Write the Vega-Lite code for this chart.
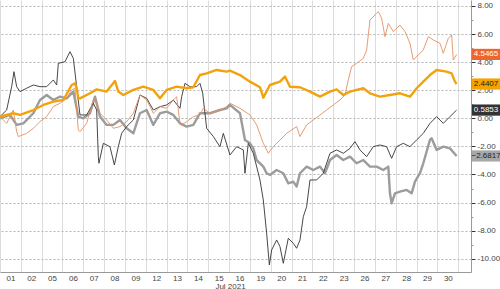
{
  "$schema": "https://vega.github.io/schema/vega-lite/v6.json",
  "width": 471,
  "height": 272,
  "autosize": {"type": "none"},
  "padding": {"left": 0, "top": 0, "right": 29, "bottom": 17},
  "background": "white",
  "config": {"view": {"stroke": null}, "font": "Liberation Sans"},
  "datasets": {
    "lines": [
      {"s":"D","t":0,"v":0.0},{"s":"D","t":0.48,"v":0.24},{"s":"D","t":0.8,"v":-0.47},{"s":"D","t":1.12,"v":-0.36},{"s":"D","t":1.6,"v":0.36},{"s":"D","t":1.92,"v":1.3},{"s":"D","t":2.24,"v":1.66},{"s":"D","t":2.56,"v":1.3},{"s":"D","t":2.88,"v":1.54},{"s":"D","t":3.2,"v":1.42},{"s":"D","t":3.52,"v":1.9},{"s":"D","t":3.76,"v":0.12},{"s":"D","t":4.0,"v":0.0},{"s":"D","t":4.32,"v":0.36},{"s":"D","t":4.56,"v":1.54},{"s":"D","t":4.8,"v":0.12},{"s":"D","t":5.12,"v":-0.47},{"s":"D","t":5.44,"v":-0.47},{"s":"D","t":5.76,"v":-0.12},{"s":"D","t":6.08,"v":-0.71},{"s":"D","t":6.4,"v":-1.07},{"s":"D","t":6.72,"v":0.36},{"s":"D","t":7.04,"v":0.59},{"s":"D","t":7.36,"v":-0.47},{"s":"D","t":7.68,"v":0.36},{"s":"D","t":8.0,"v":0.47},{"s":"D","t":8.32,"v":0.24},{"s":"D","t":8.64,"v":-0.36},{"s":"D","t":8.96,"v":-0.59},{"s":"D","t":9.28,"v":-0.47},{"s":"D","t":9.6,"v":0.36},{"s":"D","t":10.08,"v":0.36},{"s":"D","t":10.56,"v":0.59},{"s":"D","t":10.88,"v":0.71},{"s":"D","t":11.04,"v":0.95},{"s":"D","t":11.52,"v":0.36},{"s":"D","t":11.76,"v":-1.54},{"s":"D","t":12.0,"v":-1.78},{"s":"D","t":12.16,"v":-2.14},{"s":"D","t":12.32,"v":-2.97},{"s":"D","t":12.64,"v":-3.44},{"s":"D","t":12.8,"v":-3.91},{"s":"D","t":12.96,"v":-4.03},{"s":"D","t":13.28,"v":-3.68},{"s":"D","t":13.6,"v":-3.91},{"s":"D","t":13.84,"v":-4.63},{"s":"D","t":14.08,"v":-4.51},{"s":"D","t":14.24,"v":-4.86},{"s":"D","t":14.4,"v":-3.91},{"s":"D","t":14.72,"v":-3.44},{"s":"D","t":15.04,"v":-3.68},{"s":"D","t":15.36,"v":-3.44},{"s":"D","t":15.6,"v":-3.91},{"s":"D","t":15.84,"v":-2.97},{"s":"D","t":16.16,"v":-2.61},{"s":"D","t":16.48,"v":-2.97},{"s":"D","t":16.8,"v":-2.73},{"s":"D","t":17.12,"v":-3.2},{"s":"D","t":17.44,"v":-2.97},{"s":"D","t":17.76,"v":-3.44},{"s":"D","t":18.08,"v":-3.44},{"s":"D","t":18.4,"v":-3.68},{"s":"D","t":18.64,"v":-3.44},{"s":"D","t":18.72,"v":-5.34},{"s":"D","t":18.8,"v":-6.05},{"s":"D","t":18.96,"v":-5.34},{"s":"D","t":19.2,"v":-5.22},{"s":"D","t":19.52,"v":-5.1},{"s":"D","t":19.76,"v":-5.34},{"s":"D","t":19.92,"v":-4.51},{"s":"D","t":20.16,"v":-3.91},{"s":"D","t":20.32,"v":-3.2},{"s":"D","t":20.64,"v":-1.54},{"s":"D","t":20.72,"v":-1.42},{"s":"D","t":20.96,"v":-2.25},{"s":"D","t":21.28,"v":-2.02},{"s":"D","t":21.6,"v":-2.14},{"s":"D","t":21.92,"v":-2.6817},

      {"s":"C","t":0,"v":0.12},{"s":"C","t":0.32,"v":0.59},{"s":"C","t":0.56,"v":2.25},{"s":"C","t":0.67,"v":3.32},{"s":"C","t":0.8,"v":2.25},{"s":"C","t":0.96,"v":1.9},{"s":"C","t":1.28,"v":2.14},{"s":"C","t":1.6,"v":2.37},{"s":"C","t":1.92,"v":2.25},{"s":"C","t":2.24,"v":2.25},{"s":"C","t":2.56,"v":2.73},{"s":"C","t":2.72,"v":2.37},{"s":"C","t":2.8,"v":3.91},{"s":"C","t":3.12,"v":4.03},{"s":"C","t":3.36,"v":4.74},{"s":"C","t":3.52,"v":4.27},{"s":"C","t":3.68,"v":2.25},{"s":"C","t":3.84,"v":0.24},{"s":"C","t":4.16,"v":0.24},{"s":"C","t":4.48,"v":1.07},{"s":"C","t":4.64,"v":0.59},{"s":"C","t":4.72,"v":-2.73},{"s":"C","t":4.75,"v":-3.2},{"s":"C","t":4.96,"v":-1.78},{"s":"C","t":5.28,"v":-2.02},{"s":"C","t":5.49,"v":-3.32},{"s":"C","t":5.68,"v":-2.02},{"s":"C","t":5.84,"v":-1.07},{"s":"C","t":6.08,"v":-0.59},{"s":"C","t":6.4,"v":-0.12},{"s":"C","t":6.72,"v":1.66},{"s":"C","t":7.04,"v":1.42},{"s":"C","t":7.36,"v":0.59},{"s":"C","t":7.68,"v":0.83},{"s":"C","t":8.0,"v":0.95},{"s":"C","t":8.32,"v":1.3},{"s":"C","t":8.64,"v":0.71},{"s":"C","t":8.72,"v":1.54},{"s":"C","t":8.88,"v":2.49},{"s":"C","t":9.12,"v":2.25},{"s":"C","t":9.44,"v":2.25},{"s":"C","t":9.6,"v":2.49},{"s":"C","t":9.73,"v":1.78},{"s":"C","t":9.92,"v":-0.71},{"s":"C","t":10.24,"v":-1.3},{"s":"C","t":10.56,"v":-2.02},{"s":"C","t":10.72,"v":-1.07},{"s":"C","t":11.04,"v":-2.61},{"s":"C","t":11.36,"v":-2.02},{"s":"C","t":11.68,"v":-2.25},{"s":"C","t":11.76,"v":-3.91},{"s":"C","t":11.92,"v":-1.78},{"s":"C","t":12.16,"v":-2.49},{"s":"C","t":12.48,"v":-4.39},{"s":"C","t":12.64,"v":-5.81},{"s":"C","t":12.8,"v":-8.19},{"s":"C","t":12.93,"v":-10.44},{"s":"C","t":13.04,"v":-9.37},{"s":"C","t":13.28,"v":-8.66},{"s":"C","t":13.44,"v":-9.13},{"s":"C","t":13.6,"v":-10.32},{"s":"C","t":13.84,"v":-8.54},{"s":"C","t":14.08,"v":-8.9},{"s":"C","t":14.24,"v":-9.25},{"s":"C","t":14.4,"v":-8.66},{"s":"C","t":14.56,"v":-7.0},{"s":"C","t":14.72,"v":-6.29},{"s":"C","t":14.88,"v":-4.39},{"s":"C","t":15.2,"v":-4.39},{"s":"C","t":15.52,"v":-3.91},{"s":"C","t":15.84,"v":-2.49},{"s":"C","t":16.16,"v":-2.25},{"s":"C","t":16.48,"v":-2.49},{"s":"C","t":16.8,"v":-2.14},{"s":"C","t":17.04,"v":-1.66},{"s":"C","t":17.28,"v":-2.25},{"s":"C","t":17.6,"v":-2.73},{"s":"C","t":17.92,"v":-2.02},{"s":"C","t":18.24,"v":-1.9},{"s":"C","t":18.56,"v":-2.02},{"s":"C","t":18.8,"v":-2.85},{"s":"C","t":19.04,"v":-2.02},{"s":"C","t":19.36,"v":-1.78},{"s":"C","t":19.68,"v":-2.02},{"s":"C","t":20.0,"v":-1.54},{"s":"C","t":20.32,"v":-1.07},{"s":"C","t":20.64,"v":-0.36},{"s":"C","t":20.96,"v":0.12},{"s":"C","t":21.28,"v":-0.36},{"s":"C","t":21.6,"v":0.12},{"s":"C","t":21.92,"v":0.5853},

      {"s":"B","t":0,"v":0.12},{"s":"B","t":0.32,"v":-0.36},{"s":"B","t":0.64,"v":0.59},{"s":"B","t":0.8,"v":-0.95},{"s":"B","t":0.88,"v":-1.3},{"s":"B","t":1.28,"v":-1.07},{"s":"B","t":1.6,"v":-0.71},{"s":"B","t":1.92,"v":-0.24},{"s":"B","t":2.24,"v":0.12},{"s":"B","t":2.56,"v":0.83},{"s":"B","t":2.88,"v":1.07},{"s":"B","t":3.2,"v":1.42},{"s":"B","t":3.44,"v":2.02},{"s":"B","t":3.6,"v":2.14},{"s":"B","t":3.76,"v":-0.83},{"s":"B","t":3.84,"v":-0.95},{"s":"B","t":4.16,"v":-0.36},{"s":"B","t":4.48,"v":1.3},{"s":"B","t":4.56,"v":1.42},{"s":"B","t":4.8,"v":0.36},{"s":"B","t":5.12,"v":-0.12},{"s":"B","t":5.44,"v":-0.71},{"s":"B","t":5.76,"v":-0.59},{"s":"B","t":6.08,"v":-0.24},{"s":"B","t":6.4,"v":0.36},{"s":"B","t":6.72,"v":1.66},{"s":"B","t":7.04,"v":1.3},{"s":"B","t":7.36,"v":0.36},{"s":"B","t":7.68,"v":0.83},{"s":"B","t":8.0,"v":0.71},{"s":"B","t":8.32,"v":1.3},{"s":"B","t":8.48,"v":1.54},{"s":"B","t":8.64,"v":-0.36},{"s":"B","t":8.72,"v":-0.47},{"s":"B","t":8.96,"v":-0.24},{"s":"B","t":9.28,"v":0.12},{"s":"B","t":9.6,"v":0.24},{"s":"B","t":9.76,"v":0.71},{"s":"B","t":10.08,"v":0.36},{"s":"B","t":10.56,"v":0.59},{"s":"B","t":10.88,"v":0.83},{"s":"B","t":11.04,"v":1.07},{"s":"B","t":11.52,"v":0.71},{"s":"B","t":12.0,"v":0.24},{"s":"B","t":12.32,"v":-0.47},{"s":"B","t":12.64,"v":-1.78},{"s":"B","t":12.88,"v":-2.49},{"s":"B","t":13.12,"v":-2.02},{"s":"B","t":13.44,"v":-1.54},{"s":"B","t":13.76,"v":-1.07},{"s":"B","t":14.24,"v":-0.59},{"s":"B","t":14.4,"v":-1.3},{"s":"B","t":14.72,"v":-0.47},{"s":"B","t":15.04,"v":-0.12},{"s":"B","t":15.36,"v":0.24},{"s":"B","t":15.68,"v":0.59},{"s":"B","t":16.0,"v":0.95},{"s":"B","t":16.32,"v":1.3},{"s":"B","t":16.56,"v":1.66},{"s":"B","t":16.72,"v":2.73},{"s":"B","t":16.88,"v":3.68},{"s":"B","t":17.12,"v":3.91},{"s":"B","t":17.44,"v":4.27},{"s":"B","t":17.6,"v":4.86},{"s":"B","t":17.76,"v":6.99},{"s":"B","t":18.08,"v":7.47},{"s":"B","t":18.16,"v":7.59},{"s":"B","t":18.32,"v":7.12},{"s":"B","t":18.48,"v":5.81},{"s":"B","t":18.64,"v":6.76},{"s":"B","t":18.88,"v":6.17},{"s":"B","t":19.2,"v":6.64},{"s":"B","t":19.44,"v":6.17},{"s":"B","t":19.68,"v":5.34},{"s":"B","t":19.84,"v":4.15},{"s":"B","t":20.08,"v":4.51},{"s":"B","t":20.32,"v":4.86},{"s":"B","t":20.56,"v":5.81},{"s":"B","t":20.8,"v":5.58},{"s":"B","t":21.12,"v":5.34},{"s":"B","t":21.28,"v":4.63},{"s":"B","t":21.52,"v":5.69},{"s":"B","t":21.68,"v":5.93},{"s":"B","t":21.76,"v":4.15},{"s":"B","t":21.92,"v":4.5465},

      {"s":"A","t":0,"v":0.12},{"s":"A","t":0.64,"v":0.36},{"s":"A","t":0.96,"v":0.24},{"s":"A","t":1.6,"v":0.59},{"s":"A","t":2.08,"v":0.95},{"s":"A","t":2.56,"v":1.19},{"s":"A","t":3.04,"v":1.3},{"s":"A","t":3.44,"v":2.37},{"s":"A","t":3.6,"v":2.49},{"s":"A","t":3.68,"v":2.14},{"s":"A","t":3.76,"v":1.42},{"s":"A","t":3.84,"v":1.42},{"s":"A","t":4.32,"v":1.78},{"s":"A","t":4.64,"v":2.06},{"s":"A","t":5.12,"v":1.9},{"s":"A","t":5.52,"v":2.66},{"s":"A","t":5.68,"v":1.9},{"s":"A","t":5.92,"v":1.66},{"s":"A","t":6.4,"v":2.02},{"s":"A","t":6.88,"v":2.25},{"s":"A","t":7.36,"v":2.02},{"s":"A","t":7.68,"v":1.42},{"s":"A","t":8.0,"v":2.02},{"s":"A","t":8.48,"v":2.25},{"s":"A","t":8.96,"v":2.14},{"s":"A","t":9.28,"v":2.21},{"s":"A","t":9.6,"v":3.08},{"s":"A","t":9.92,"v":3.2},{"s":"A","t":10.4,"v":3.44},{"s":"A","t":10.88,"v":3.32},{"s":"A","t":11.04,"v":3.39},{"s":"A","t":11.52,"v":3.08},{"s":"A","t":12.0,"v":2.61},{"s":"A","t":12.48,"v":2.21},{"s":"A","t":12.64,"v":1.47},{"s":"A","t":12.96,"v":2.37},{"s":"A","t":13.44,"v":2.61},{"s":"A","t":13.68,"v":2.97},{"s":"A","t":13.92,"v":2.25},{"s":"A","t":14.4,"v":2.21},{"s":"A","t":14.88,"v":1.9},{"s":"A","t":15.36,"v":1.54},{"s":"A","t":15.84,"v":1.9},{"s":"A","t":16.16,"v":2.06},{"s":"A","t":16.48,"v":1.66},{"s":"A","t":16.8,"v":1.9},{"s":"A","t":17.44,"v":2.14},{"s":"A","t":17.76,"v":1.78},{"s":"A","t":18.24,"v":1.54},{"s":"A","t":18.72,"v":1.66},{"s":"A","t":19.2,"v":1.78},{"s":"A","t":19.68,"v":1.54},{"s":"A","t":20.0,"v":2.14},{"s":"A","t":20.32,"v":2.61},{"s":"A","t":20.64,"v":3.08},{"s":"A","t":20.96,"v":3.44},{"s":"A","t":21.44,"v":3.32},{"s":"A","t":21.68,"v":3.2},{"s":"A","t":21.84,"v":2.61},{"s":"A","t":21.92,"v":2.4407}
    ]
  },
  "data": {"name": "lines"},
  "encoding": {
    "x": {
      "field": "t", "type": "quantitative",
      "scale": {"domain": [0, 22.61], "nice": false, "zero": false},
      "axis": {
        "values": [0,1,2,3,4,5,6,7,8,9,10,11,12,13,14,15,16,17,18,19,20,21,22],
        "labelExpr": "['01','02','05','06','07','08','09','12','13','14','15','16','19','20','21','22','23','26','27','28','29','30'][datum.value] || ''",
        "labelOffset": 10.4,
        "labelAlign": "center",
        "labelPadding": 2,
        "labelFontSize": 8,
        "labelColor": "#444",
        "labelFlush": false,
        "labelOverlap": false,
        "ticks": false,
        "grid": true,
        "gridColor": "#dcdcdc",
        "gridWidth": 1,
        "domainColor": "#999",
        "title": "Jul 2021",
        "titleFontSize": 8,
        "titleFontWeight": "normal",
        "titleColor": "#444",
        "titleX": 230,
        "titleY": 14,
        "titleBaseline": "middle"
      }
    },
    "y": {
      "field": "v", "type": "quantitative",
      "scale": {"domain": [-10.94, 8.42], "nice": false, "zero": false},
      "axis": {
        "orient": "right",
        "values": [-10,-9,-8,-7,-6,-5,-4,-3,-2,-1,0,1,2,3,4,5,6,7,8],
        "labelExpr": "datum.value % 2 !== 0 ? '' : replace(format(datum.value, '.2f'), '\u2212', '-')",
        "labelFontSize": 8,
        "labelColor": "#444",
        "labelPadding": 2,
        "labelOverlap": false,
        "labelFlush": false,
        "tickSize": {"condition": {"test": "datum.value % 2 !== 0", "value": 2}, "value": 4},
        "tickColor": {"condition": {"test": "datum.value % 2 !== 0", "value": "#999"}, "value": "#333"},
        "grid": true,
        "gridDash": [2, 2],
        "gridColor": "#b5b5b5",
        "gridOpacity": {"condition": {"test": "datum.value % 2 !== 0", "value": 0}, "value": 1},
        "domainColor": "#999",
        "title": null
      }
    }
  },
  "layer": [
    {
      "transform": [{"filter": "datum.s === 'D'"}],
      "mark": {"type": "line", "color": "#9c9c9c", "strokeWidth": 2.4, "strokeJoin": "round"}
    },
    {
      "transform": [{"filter": "datum.s === 'C'"}],
      "mark": {"type": "line", "color": "#333333", "strokeWidth": 0.9, "strokeJoin": "round"}
    },
    {
      "transform": [{"filter": "datum.s === 'B'"}],
      "mark": {"type": "line", "color": "#e39060", "strokeWidth": 0.9, "strokeJoin": "round"}
    },
    {
      "transform": [{"filter": "datum.s === 'A'"}],
      "mark": {"type": "line", "color": "#f4a20c", "strokeWidth": 2.4, "strokeJoin": "round"}
    },
    {
      "transform": [
        {"joinaggregate": [{"op": "max", "field": "t", "as": "tmax"}], "groupby": ["s"]},
        {"filter": "datum.t === datum.tmax"}
      ],
      "mark": {"type": "point", "filled": true, "opacity": 1, "strokeWidth": 0, "size": 784, "shape": "M1.1,-0.4H3.1V0.4H1.1Z"},
      "encoding": {
        "color": {
          "field": "s", "type": "nominal",
          "scale": {"domain": ["A","B","C","D"], "range": ["#f5a300","#f0662a","#333333","#a8a8a8"]},
          "legend": null
        }
      }
    },
    {
      "transform": [
        {"joinaggregate": [{"op": "max", "field": "t", "as": "tmax"}], "groupby": ["s"]},
        {"filter": "datum.t === datum.tmax"}
      ],
      "mark": {"type": "text", "dx": 29.4, "align": "center", "baseline": "middle", "fontSize": 8},
      "encoding": {
        "text": {"field": "v", "type": "quantitative", "format": ".4f"},
        "color": {
          "field": "s", "type": "nominal",
          "scale": {"domain": ["A","B","C","D"], "range": ["#222222","#ffffff","#ffffff","#222222"]},
          "legend": null
        }
      }
    }
  ],
  "resolve": {"scale": {"color": "independent"}}
}
